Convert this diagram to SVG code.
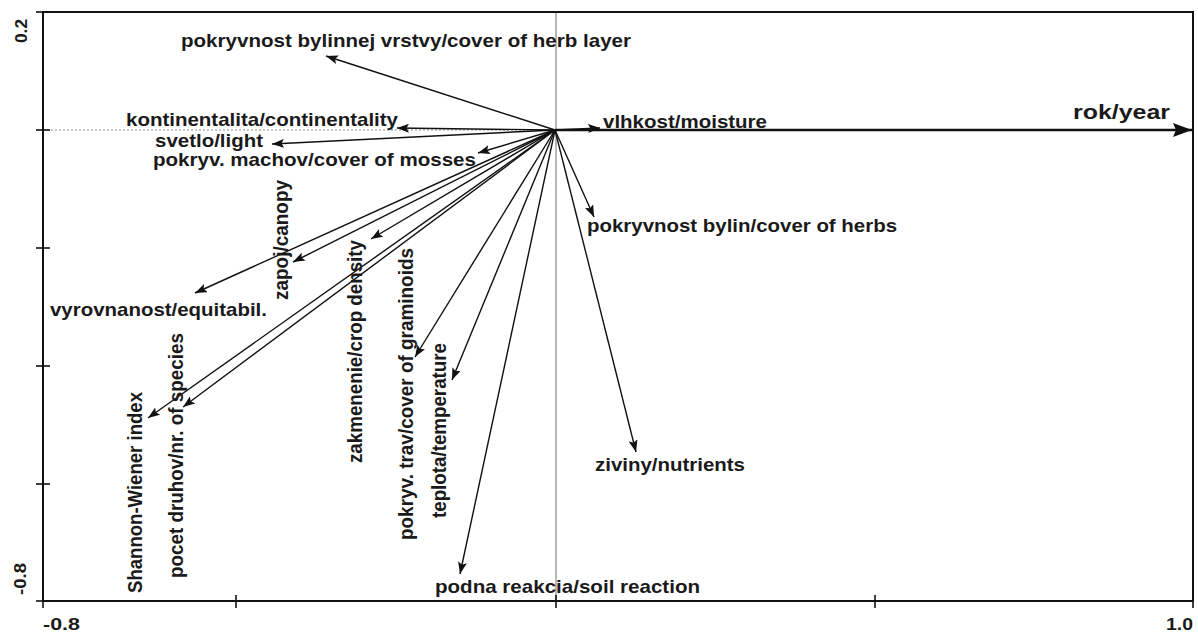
<svg xmlns="http://www.w3.org/2000/svg" width="1198" height="632" viewBox="0 0 1198 632">
<style>
.lbl{font-family:"Liberation Sans",Arial,sans-serif;font-weight:bold;font-size:18.5px;fill:#1a1a1a}
.tick{font-family:"Liberation Sans",Arial,sans-serif;font-weight:bold;font-size:17px;fill:#1a1a1a}
.arr{stroke:#111;stroke-width:1.4;fill:none;marker-end:url(#ah)}
.frame{stroke:#111;stroke-width:2;fill:none}
.tk{stroke:#111;stroke-width:1.6}
</style>
<defs>
<marker id="ah" markerUnits="userSpaceOnUse" markerWidth="14" markerHeight="9" refX="12" refY="4.5" orient="auto">
<path d="M0,0 L12,4.5 L0,9 L2.5,4.5 z" fill="#111"/>
</marker>
<marker id="ahBig" markerUnits="userSpaceOnUse" markerWidth="20" markerHeight="14" refX="19" refY="7" orient="auto">
<path d="M0,0 L19,7 L0,14 L3,7 z" fill="#111"/>
</marker>
</defs>
<rect width="1198" height="632" fill="#fff"/>
<g id="axes">
<line x1="43" y1="130" x2="556" y2="130" stroke="#888" stroke-width="1" stroke-dasharray="2,2"/>
<line x1="556" y1="12" x2="556" y2="601" stroke="#888" stroke-width="1.2"/>
<rect class="frame" x="43" y="12" width="1150" height="589"/>
<line class="tk" x1="36" y1="12" x2="43" y2="12"/>
<line class="tk" x1="36" y1="130" x2="50" y2="130"/>
<line class="tk" x1="36" y1="248" x2="50" y2="248"/>
<line class="tk" x1="36" y1="366" x2="50" y2="366"/>
<line class="tk" x1="36" y1="484" x2="50" y2="484"/>
<line class="tk" x1="36" y1="601" x2="43" y2="601"/>
<line class="tk" x1="43" y1="601" x2="43" y2="608"/>
<line class="tk" x1="236" y1="595" x2="236" y2="608"/>
<line class="tk" x1="556" y1="595" x2="556" y2="608"/>
<line class="tk" x1="875" y1="595" x2="875" y2="608"/>
<line class="tk" x1="1193" y1="601" x2="1193" y2="608"/>
<text class="tick" transform="translate(27,43) rotate(-90)" textLength="24" lengthAdjust="spacingAndGlyphs">0.2</text>
<text class="tick" transform="translate(26,595) rotate(-90)" textLength="32" lengthAdjust="spacingAndGlyphs">-0.8</text>
<text class="tick" x="43" y="630" textLength="37" lengthAdjust="spacingAndGlyphs">-0.8</text>
<text class="tick" x="1166" y="630" textLength="27" lengthAdjust="spacingAndGlyphs">1.0</text>
</g>
<g id="connectors">
<line x1="555" y1="130" x2="1192" y2="130" stroke="#111" stroke-width="2.6" marker-end="url(#ahBig)"/>
<line class="arr" x1="555" y1="130" x2="326" y2="56"/>
<line class="arr" x1="555" y1="130" x2="397" y2="128"/>
<line class="arr" x1="555" y1="130" x2="272" y2="144"/>
<line class="arr" x1="555" y1="130" x2="478" y2="153"/>
<line class="arr" x1="555" y1="130" x2="600" y2="128"/>
<line class="arr" x1="555" y1="130" x2="594" y2="217"/>
<line class="arr" x1="555" y1="130" x2="636" y2="452"/>
<line class="arr" x1="555" y1="130" x2="460" y2="574"/>
<line class="arr" x1="555" y1="130" x2="452" y2="380"/>
<line class="arr" x1="555" y1="130" x2="415" y2="357"/>
<line class="arr" x1="555" y1="130" x2="371" y2="239"/>
<line class="arr" x1="555" y1="130" x2="293" y2="262"/>
<line class="arr" x1="555" y1="130" x2="195" y2="293"/>
<line class="arr" x1="555" y1="130" x2="183" y2="407"/>
<line class="arr" x1="555" y1="130" x2="148" y2="418"/>
</g>
<g id="n-herb-layer"><text class="lbl" x="181" y="47" textLength="450" lengthAdjust="spacingAndGlyphs">pokryvnost bylinnej vrstvy/cover of herb layer</text></g>
<g id="n-continentality"><text class="lbl" x="126" y="126" textLength="272" lengthAdjust="spacingAndGlyphs">kontinentalita/continentality</text></g>
<g id="n-light"><text class="lbl" x="155" y="147" textLength="108" lengthAdjust="spacingAndGlyphs">svetlo/light</text></g>
<g id="n-mosses"><text class="lbl" x="153" y="166" textLength="323" lengthAdjust="spacingAndGlyphs">pokryv. machov/cover of mosses</text></g>
<g id="n-moisture"><text class="lbl" x="603" y="128" textLength="164" lengthAdjust="spacingAndGlyphs">vlhkost/moisture</text></g>
<g id="n-year"><text class="lbl" x="1073" y="119" style="font-size:21px" textLength="97" lengthAdjust="spacingAndGlyphs">rok/year</text></g>
<g id="n-herbs"><text class="lbl" x="587" y="232" textLength="310" lengthAdjust="spacingAndGlyphs">pokryvnost bylin/cover of herbs</text></g>
<g id="n-nutrients"><text class="lbl" x="595" y="471" textLength="150" lengthAdjust="spacingAndGlyphs">ziviny/nutrients</text></g>
<g id="n-soil"><text class="lbl" x="435" y="593" textLength="265" lengthAdjust="spacingAndGlyphs">podna reakcia/soil reaction</text></g>
<g id="n-equitability"><text class="lbl" x="50" y="316" textLength="217" lengthAdjust="spacingAndGlyphs">vyrovnanost/equitabil.</text></g>
<g id="n-shannon"><text class="lbl" transform="translate(142,593) rotate(-90) scale(1,1.08)" textLength="201" lengthAdjust="spacingAndGlyphs">Shannon-Wiener index</text></g>
<g id="n-species"><text class="lbl" transform="translate(183,578) rotate(-90) scale(1,1.08)" textLength="245" lengthAdjust="spacingAndGlyphs">pocet druhov/nr. of species</text></g>
<g id="n-canopy"><text class="lbl" transform="translate(288,300) rotate(-90) scale(1,1.08)" textLength="120" lengthAdjust="spacingAndGlyphs">zapoj/canopy</text></g>
<g id="n-crop"><text class="lbl" transform="translate(362,463) rotate(-90) scale(1,1.08)" textLength="223" lengthAdjust="spacingAndGlyphs">zakmenenie/crop density</text></g>
<g id="n-graminoids"><text class="lbl" transform="translate(413,540) rotate(-90) scale(1,1.08)" textLength="292" lengthAdjust="spacingAndGlyphs">pokryv. trav/cover of graminoids</text></g>
<g id="n-temperature"><text class="lbl" transform="translate(446,518) rotate(-90) scale(1,1.08)" textLength="175" lengthAdjust="spacingAndGlyphs">teplota/temperature</text></g>
</svg>
